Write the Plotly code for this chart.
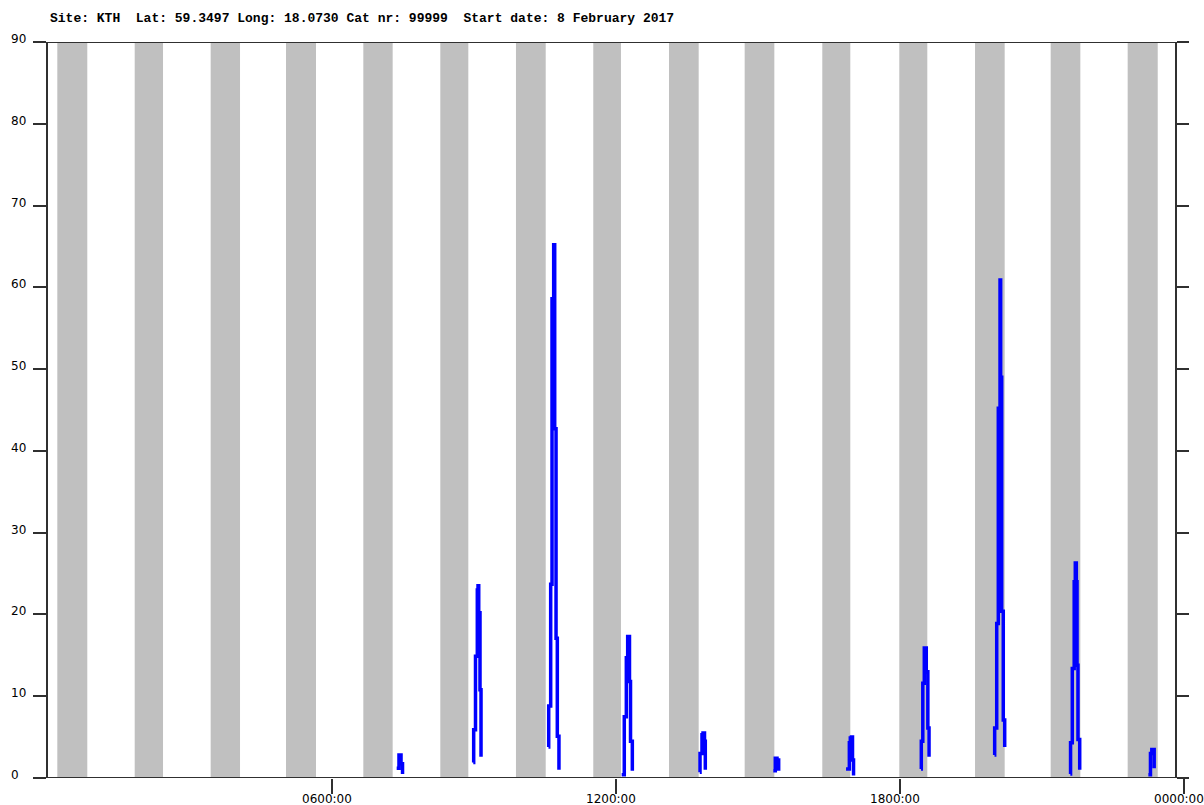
import plotly.graph_objects as go

# Header line above the plot
HEADER = "Site: KTH  Lat: 59.3497 Long: 18.0730 Cat nr: 99999  Start date: 8 February 2017"

# Time axis: minutes after 00:00 on the start date
X_MAX = 1440
x_tick_vals = [360, 720, 1080, 1440]
x_tick_text = ["0600:00", "1200:00", "1800:00", "0000:00"]

# Elevation axis (degrees)
Y_MAX = 90
y_tick_vals = [0, 10, 20, 30, 40, 50, 60, 70, 80, 90]

# Satellite-in-shadow intervals (minutes)
shadow_start = [11.8, 109.9, 206.2, 301.7, 399.7, 497.3, 593.2, 691.2,
                787.2, 883.1, 981.5, 1079.1, 1175.1, 1271.0, 1368.6]
shadow_end = [49.8, 145.8, 243.4, 339.7, 436.9, 532.8, 630.9, 726.3,
              824.8, 920.7, 1017.0, 1114.6, 1212.7, 1308.6, 1406.7]

# Passes over the site: sample time (min) and elevation (deg)
pass01_t = [442.0, 444.9, 447.5, 449.4]
pass01_el = [1.2, 2.8, 1.75, 0.5]

pass02_t = [539.1, 539.6, 541.9, 544.2, 545.1, 546.0, 547.6, 548.9]
pass02_el = [1.9, 5.9, 14.9, 23.0, 23.5, 20.2, 10.8, 2.6]

pass03_t = [634.4, 634.7, 637.2, 638.9, 641.0, 642.3, 644.0, 645.6, 647.7]
pass03_el = [3.8, 8.8, 23.7, 58.6, 65.2, 42.7, 17.1, 5.1, 1.0]

pass04_t = [727.2, 730.5, 733.1, 734.8, 737.1, 738.4, 740.7]
pass04_el = [0.4, 7.5, 14.7, 17.3, 11.8, 4.5, 0.9]

pass05_t = [826.2, 826.5, 829.0, 830.3, 832.2, 833.2]
pass05_el = [0.7, 3.0, 5.3, 5.5, 4.5, 1.0]

pass06_t = [919.4, 921.9, 924.1, 926.2]
pass06_el = [0.9, 2.4, 2.2, 0.9]

pass07_t = [1011.6, 1015.8, 1017.0, 1018.5, 1019.8, 1021.1]
pass07_el = [1.1, 4.3, 4.9, 5.0, 2.2, 0.3]

pass08_t = [1106.6, 1107.0, 1108.9, 1110.8, 1113.3, 1115.3, 1116.8]
pass08_el = [1.1, 4.5, 11.6, 15.9, 13.0, 6.1, 2.6]

pass09_t = [1199.8, 1200.0, 1202.6, 1204.6, 1206.8, 1207.6, 1208.9, 1210.9, 1212.7]
pass09_el = [2.8, 6.1, 18.9, 45.2, 60.9, 49.0, 20.4, 7.1, 3.8]

pass10_t = [1295.9, 1296.2, 1298.4, 1300.8, 1302.2, 1303.5, 1304.4, 1305.6, 1307.8]
pass10_el = [0.5, 4.3, 13.4, 24.0, 26.3, 24.0, 13.8, 4.7, 1.0]

pass11_t = [1394.8, 1397.5, 1399.2, 1402.2]
pass11_el = [0.4, 3.0, 3.5, 1.2]

passes = [
    (pass01_t, pass01_el), (pass02_t, pass02_el), (pass03_t, pass03_el),
    (pass04_t, pass04_el), (pass05_t, pass05_el), (pass06_t, pass06_el),
    (pass07_t, pass07_el), (pass08_t, pass08_el), (pass09_t, pass09_el),
    (pass10_t, pass10_el), (pass11_t, pass11_el),
]

FRAME = "#303030"
TICK_FONT = dict(family="DejaVu Sans", size=12, color="#000000")

W, H = 1204, 805
ML, MR, MT, MB = 48, 20, 42, 27
PW = W - ML - MR
PH = H - MT - MB


def px_to_paper_x(px):
    return (px - ML) / PW


def px_to_paper_y(py):
    return 1 - (py - MT) / PH


fig = go.Figure()

for t, el in passes:
    fig.add_trace(go.Scatter(
        x=t, y=el, mode="lines",
        line=dict(color="#0000FF", width=3.5, shape="hv"),
        showlegend=False, hoverinfo="skip",
    ))

# empty series so the right-hand elevation axis gets drawn
fig.add_trace(go.Scatter(x=[], y=[], yaxis="y2", mode="lines",
                         showlegend=False, hoverinfo="skip"))

shapes = []
for s, e in zip(shadow_start, shadow_end):
    shapes.append(dict(type="rect", xref="x", yref="y", x0=s, x1=e, y0=0, y1=Y_MAX,
                       fillcolor="#C0C0C0", line=dict(width=0), layer="below"))

# top and bottom frame lines reach a little past the plot on both sides
for yv, right_px in ((Y_MAX, 1189), (0, 1188)):
    shapes.append(dict(type="line", xref="paper", yref="y",
                       x0=px_to_paper_x(35), x1=px_to_paper_x(right_px), y0=yv, y1=yv,
                       line=dict(color=FRAME, width=2), layer="above"))

annotations = []
for v in y_tick_vals:
    annotations.append(dict(xref="paper", yref="y", x=px_to_paper_x(9), y=v,
                            text=str(v), showarrow=False, xanchor="left",
                            yanchor="middle", yshift=3, font=TICK_FONT))
for v, txt in zip(x_tick_vals, x_tick_text):
    annotations.append(dict(xref="x", yref="paper", x=v, y=0, text=txt,
                            showarrow=False, xanchor="center", yanchor="top",
                            xshift=-5, yshift=-12, font=TICK_FONT))
annotations.append(dict(xref="paper", yref="paper", x=0, y=px_to_paper_y(18),
                        text=HEADER.replace(" ", "\u00a0"), showarrow=False,
                        xanchor="left", yanchor="middle",
                        font=dict(family="Liberation Mono", size=13, color="#000000",
                                  weight="bold")))

fig.update_layout(
    width=W, height=H, autosize=False,
    margin=dict(l=ML, r=MR, t=MT, b=MB, pad=0),
    paper_bgcolor="white", plot_bgcolor="white",
    showlegend=False,
    xaxis=dict(range=[0, X_MAX], tickvals=x_tick_vals, ticks="outside", ticklen=15,
               tickwidth=1.5, tickcolor=FRAME, showticklabels=False,
               showgrid=False, zeroline=False, showline=False, fixedrange=True),
    yaxis=dict(range=[0, Y_MAX], tickvals=y_tick_vals, ticks="outside", ticklen=13,
               tickwidth=1.5, tickcolor=FRAME, showticklabels=False,
               showgrid=False, zeroline=False, showline=True, linecolor=FRAME,
               linewidth=2, fixedrange=True),
    yaxis2=dict(range=[0, Y_MAX], tickvals=y_tick_vals, ticks="outside", ticklen=12,
                tickwidth=1.5, tickcolor=FRAME, showticklabels=False,
                showgrid=False, zeroline=False, showline=True, linecolor=FRAME,
                linewidth=2, overlaying="y", side="right", anchor="free",
                position=px_to_paper_x(1176), fixedrange=True),
    shapes=shapes,
    annotations=annotations,
)

fig.write_html("out.html")
